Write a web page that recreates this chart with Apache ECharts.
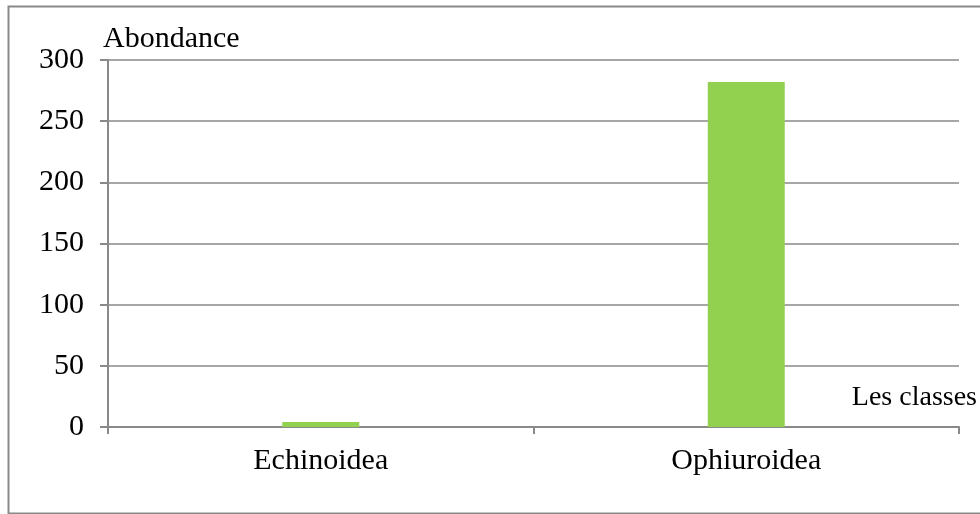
<!DOCTYPE html>
<html>
<head>
<meta charset="utf-8">
<script src="https://cdn.jsdelivr.net/npm/echarts@6/dist/echarts.min.js"></script>
<style>
  html, body { margin: 0; padding: 0; background: #fff; }
  #chart { width: 980px; height: 514px; }
</style>
</head>
<body>
<div id="chart"></div>
<script>
// Abundance per class
const categories = ['Echinoidea', 'Ophiuroidea'];
const abondance = [4, 282];
const yTicks = { min: 0, max: 300, interval: 50 };

const FONT = '"Liberation Serif", "Times New Roman", serif';
const GRAY = '#898989';

const chart = echarts.init(document.getElementById('chart'), null, { renderer: 'canvas' });

chart.setOption({
  backgroundColor: '#ffffff',
  animation: false,
  grid: { left: 108, right: 20, top: 60, bottom: 87, containLabel: false },
  graphic: [{
    type: 'rect',
    left: 6, top: 4,
    shape: { x: 1, y: 1, width: 980, height: 507 },
    style: { fill: 'none', stroke: GRAY, lineWidth: 2 },
    silent: true
  }],
  xAxis: {
    type: 'category',
    data: categories,
    name: 'Les classes',
    nameLocation: 'end',
    nameGap: 18,
    nameTextStyle: {
      fontFamily: FONT, fontSize: 28, color: '#000',
      align: 'right', verticalAlign: 'bottom', padding: [0, 0, 15, 0]
    },
    axisLine: { lineStyle: { color: GRAY, width: 2 } },
    axisTick: { show: true, length: 7, lineStyle: { color: GRAY, width: 2 } },
    axisLabel: { fontFamily: FONT, fontSize: 30, color: '#000', margin: 19 },
    splitLine: { show: false }
  },
  yAxis: {
    type: 'value',
    min: yTicks.min,
    max: yTicks.max,
    interval: yTicks.interval,
    name: 'Abondance',
    nameLocation: 'end',
    nameGap: 6,
    nameTextStyle: {
      fontFamily: FONT, fontSize: 30, color: '#000',
      align: 'left', verticalAlign: 'bottom', padding: [0, 0, 0, -5]
    },
    axisLine: { show: true, lineStyle: { color: GRAY, width: 2 } },
    axisTick: { show: true, length: 8, lineStyle: { color: GRAY, width: 2 } },
    axisLabel: { fontFamily: FONT, fontSize: 30, color: '#000', margin: 24 },
    splitLine: { show: true, lineStyle: { color: GRAY, width: 1.5 } }
  },
  series: [{
    type: 'bar',
    data: abondance,
    barWidth: 77,
    itemStyle: { color: '#92D050' }
  }]
});
</script>
</body>
</html>
